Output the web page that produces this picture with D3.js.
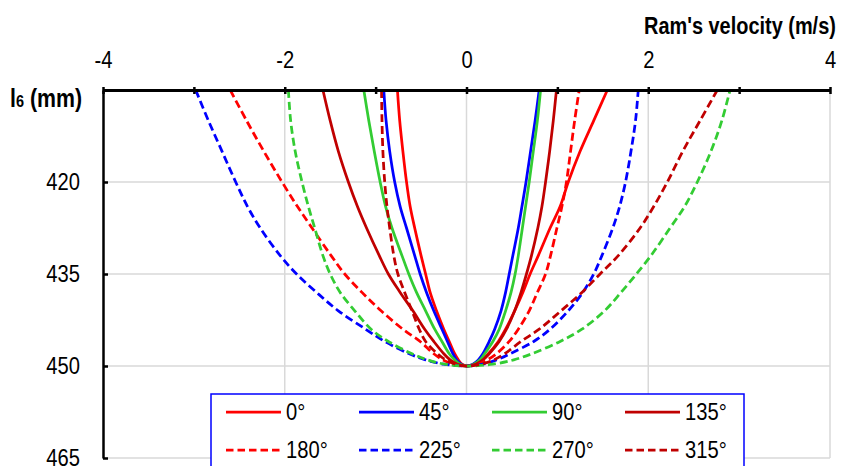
<!DOCTYPE html>
<html>
<head>
<meta charset="utf-8">
<script src="https://cdn.jsdelivr.net/npm/d3@7"></script>
<style>
  body { margin: 0; background: #fff; }
  text { font-family: "Liberation Sans Narrow", "Arial Narrow", "Liberation Sans", Arial, sans-serif; }
</style>
</head>
<body>
<div id="chart"></div>
<script>
// axis ticks
var velocityTicks = [-4, -3, -2, -1, 0, 1, 2, 3, 4];
var lengthTicks = [405, 420, 435, 450, 465];

// l6 levels (mm) where the velocities were read, top -> bottom
var levels = [405, 410, 415, 420, 424, 427.5, 432, 435, 438, 441, 444, 446, 448, 449, 449.7];

var angles = ["0°", "45°", "90°", "135°", "180°", "225°", "270°", "315°"];

// velocity (m/s) on the way down (left) and up (right) for each crank angle
var down0   = [-0.76, -0.735, -0.70, -0.66, -0.62, -0.57, -0.50, -0.45, -0.40, -0.33, -0.25, -0.19, -0.13, -0.09, -0.05];
var up0     = [1.55, 1.40, 1.25, 1.12, 1.03, 0.92, 0.79, 0.70, 0.62, 0.53, 0.43, 0.35, 0.24, 0.17, 0.09];
var down45  = [-0.91, -0.885, -0.845, -0.79, -0.73, -0.66, -0.57, -0.51, -0.44, -0.36, -0.27, -0.21, -0.15, -0.11, -0.06];
var up45    = [0.80, 0.755, 0.705, 0.655, 0.61, 0.57, 0.51, 0.47, 0.43, 0.38, 0.31, 0.25, 0.18, 0.13, 0.07];
var down90  = [-1.13, -1.075, -1.015, -0.95, -0.89, -0.82, -0.71, -0.635, -0.55, -0.45, -0.35, -0.27, -0.19, -0.13, -0.07];
var up90    = [0.815, 0.78, 0.735, 0.69, 0.65, 0.615, 0.57, 0.535, 0.49, 0.43, 0.36, 0.29, 0.20, 0.15, 0.08];
var down135 = [-1.58, -1.50, -1.41, -1.30, -1.20, -1.10, -0.96, -0.86, -0.73, -0.59, -0.46, -0.36, -0.25, -0.18, -0.10];
var up135   = [0.99, 0.955, 0.915, 0.87, 0.83, 0.785, 0.715, 0.66, 0.60, 0.53, 0.44, 0.36, 0.25, 0.18, 0.10];
var down180 = [-2.60, -2.42, -2.23, -2.03, -1.86, -1.70, -1.49, -1.34, -1.15, -0.94, -0.70, -0.51, -0.36, -0.26, -0.14];
var up180   = [1.24, 1.19, 1.145, 1.10, 1.05, 0.995, 0.925, 0.87, 0.78, 0.69, 0.57, 0.47, 0.33, 0.23, 0.13];
var down225 = [-2.98, -2.84, -2.69, -2.54, -2.41, -2.27, -2.05, -1.87, -1.65, -1.41, -1.11, -0.90, -0.63, -0.45, -0.25];
var up225   = [1.89, 1.86, 1.81, 1.75, 1.685, 1.61, 1.49, 1.40, 1.28, 1.12, 0.92, 0.74, 0.48, 0.33, 0.18];
var down270 = [-1.96, -1.935, -1.885, -1.81, -1.74, -1.67, -1.58, -1.50, -1.39, -1.23, -1.05, -0.86, -0.60, -0.43, -0.24];
var up270   = [2.90, 2.81, 2.69, 2.54, 2.40, 2.24, 2.03, 1.87, 1.70, 1.52, 1.27, 1.03, 0.72, 0.52, 0.29];
var down315 = [-0.935, -0.93, -0.92, -0.90, -0.875, -0.845, -0.80, -0.755, -0.68, -0.60, -0.52, -0.45, -0.32, -0.23, -0.12];
var up315   = [2.76, 2.57, 2.38, 2.21, 2.06, 1.91, 1.67, 1.47, 1.27, 1.04, 0.80, 0.60, 0.42, 0.30, 0.16];

var colors = ["#ff0000", "#0000ff", "#33cc33", "#c00000", "#ff0000", "#0000ff", "#33cc33", "#c00000"];

var downs = [down0, down45, down90, down135, down180, down225, down270, down315];
var ups = [up0, up45, up90, up135, up180, up225, up270, up315];

var series = angles.map(function(a, i) {
  var pts = levels.map(function(l, j) { return [downs[i][j], l]; });
  pts.push([0, 450]);
  for (var j = levels.length - 1; j >= 0; j--) pts.push([ups[i][j], levels[j]]);
  return { name: a, color: colors[i], dashed: i >= 4, points: pts };
});

var width = 846,
    height = 466;

var svg = d3.select("#chart").append("svg")
    .attr("width", width)
    .attr("height", height);

var x = d3.scaleLinear().domain([-4, 4]).range([103, 830]);
var y = d3.scaleLinear().domain([405, 465]).range([90, 458]);

// the original uses a narrow font; squeeze the fallback to the same width
function narrow(sel, k) {
  sel.each(function() {
    var w = this.getComputedTextLength();
    d3.select(this).attr("textLength", w * k).attr("lengthAdjust", "spacingAndGlyphs");
  });
}

// grid
svg.append("g").selectAll("line")
    .data([-2, 0, 2, 4])
  .join("line")
    .attr("x1", x).attr("x2", x)
    .attr("y1", y(405)).attr("y2", y(465))
    .attr("stroke", "#d9d9d9")
    .attr("stroke-width", 1.5);

svg.append("g").selectAll("line")
    .data([420, 435, 450, 465])
  .join("line")
    .attr("x1", x(-4)).attr("x2", x(4))
    .attr("y1", y).attr("y2", y)
    .attr("stroke", "#d9d9d9")
    .attr("stroke-width", 1.5);

// curves
var line = d3.line()
    .x(function(d) { return x(d[0]); })
    .y(function(d) { return y(d[1]); })
    .curve(d3.curveCatmullRom.alpha(0.5));

svg.append("g").selectAll("path")
    .data(series)
  .join("path")
    .attr("d", function(d) { return line(d.points); })
    .attr("fill", "none")
    .attr("stroke", function(d) { return d.color; })
    .attr("stroke-width", 2.75)
    .attr("stroke-dasharray", function(d) { return d.dashed ? "8,4" : null; });

// y axis (left); the 405 label sits under the title in the original
var yAxis = svg.append("g")
    .attr("transform", "translate(" + x(-4) + ",0)")
    .call(d3.axisLeft(y).tickValues(lengthTicks).tickSize(-5).tickSizeOuter(0).tickPadding(23)
      .tickFormat(function(d) { return d === 405 ? "" : String(d); }));
yAxis.attr("font-size", null).attr("font-family", null);
yAxis.select(".domain").attr("stroke-width", 2.5);
yAxis.selectAll(".tick line").attr("stroke-width", 2.5);
yAxis.selectAll("text").attr("font-size", 24).attr("fill", "#000").call(narrow, 0.84);

// x axis (top)
var xAxis = svg.append("g")
    .attr("transform", "translate(0," + y(405) + ")")
    .call(d3.axisTop(x).tickValues(velocityTicks).tickSize(-4).tickSizeOuter(0).tickPadding(22)
      .tickFormat(function(d) { return d % 2 === 0 ? String(d) : ""; }));
xAxis.attr("font-size", null).attr("font-family", null);
xAxis.select(".domain").attr("stroke-width", 3);
xAxis.selectAll(".tick line").attr("y1", -3).attr("stroke-width", 2.5);
xAxis.selectAll("text").attr("font-size", 24).attr("fill", "#000").call(narrow, 0.84);

// axis titles
var yTitle = svg.append("text")
    .attr("x", 10).attr("y", 107)
    .attr("font-size", 25)
    .attr("font-weight", "bold");
yTitle.append("tspan").text("l");
yTitle.append("tspan").attr("font-size", 17).text("6");
yTitle.append("tspan").text(" (mm)");
yTitle.attr("textLength", 72).attr("lengthAdjust", "spacingAndGlyphs");

var xTitle = svg.append("text")
    .attr("font-size", 24)
    .attr("font-weight", "bold")
    .text("Ram's velocity (m/s)");
var sx = 192 / xTitle.node().getComputedTextLength();
xTitle.attr("transform", "translate(644,34) scale(" + sx + ",1)");

// legend
var legend = svg.append("g");
legend.append("rect")
    .attr("x", 211).attr("y", 394)
    .attr("width", 533).attr("height", 90)
    .attr("fill", "#fff")
    .attr("stroke", "#0000ff")
    .attr("stroke-width", 1.5);

var item = legend.selectAll("g.item")
    .data(series)
  .join("g")
    .attr("class", "item")
    .attr("transform", function(d, i) {
      return "translate(" + (226 + (i % 4) * 133) + "," + (i < 4 ? 412 : 450) + ")";
    });

item.append("line")
    .attr("x1", 0).attr("x2", 55)
    .attr("stroke", function(d) { return d.color; })
    .attr("stroke-width", 2.75)
    .attr("stroke-dasharray", function(d) { return d.dashed ? "7.5,4" : null; });

item.append("text")
    .attr("x", 60)
    .attr("dy", "0.35em")
    .attr("font-size", 24)
    .text(function(d) { return d.name; })
    .call(narrow, 0.84);
</script>
</body>
</html>
